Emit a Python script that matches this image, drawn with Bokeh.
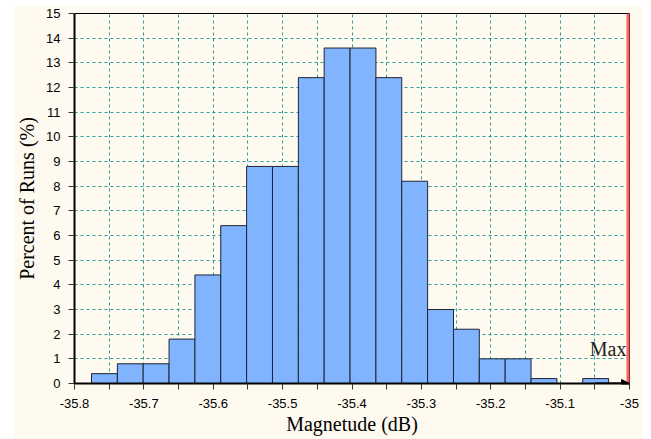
from bokeh.plotting import figure
from bokeh.models import (FixedTicker, CustomJSTickFormatter, Span, Label,
                          ColumnDataSource, Arrow, NormalHead)
from bokeh.embed import file_html
from bokeh.resources import INLINE

# ---- data ----
bin_edges = [-35.7755, -35.7382, -35.7010, -35.6637, -35.6264, -35.5892, -35.5519,
             -35.5146, -35.4773, -35.4401, -35.4028, -35.3655, -35.3283, -35.2910,
             -35.2537, -35.2165, -35.1792, -35.1419, -35.1046, -35.0674, -35.0301]
percent_of_runs = [0.4, 0.8, 0.8, 1.8, 4.4, 6.4, 8.8, 8.8, 12.4, 13.6,
                   13.6, 12.4, 8.2, 3.0, 2.2, 1.0, 1.0, 0.2, 0.0, 0.2]
x_ticks = [-35.8, -35.75, -35.7, -35.65, -35.6, -35.55, -35.5, -35.45, -35.4,
           -35.35, -35.3, -35.25, -35.2, -35.15, -35.1, -35.05, -35.0]
y_ticks = [0, 1, 2, 3, 4, 5, 6, 7, 8, 9, 10, 11, 12, 13, 14, 15]
max_value = -35.0
max_label = "Max"
x_title = "Magnetude (dB)"
y_title = "Percent of Runs (%)"

cream = "#FEFAEF"

src = ColumnDataSource(dict(left=bin_edges[:-1], right=bin_edges[1:],
                            top=percent_of_runs, bottom=[0] * len(percent_of_runs)))

p = figure(width=630, height=434, x_range=(x_ticks[0], x_ticks[-1]),
           y_range=(y_ticks[0], y_ticks[-1]), output_backend="svg",
           toolbar_location=None, min_border_left=60, min_border_right=14,
           min_border_top=8, min_border_bottom=56)
p.margin = (5, 8, 0, 13)
p.background_fill_color = cream
p.border_fill_color = cream
p.outline_line_color = "black"
p.outline_line_width = 1

p.quad(left="left", right="right", top="top", bottom="bottom", source=src,
       fill_color="#80B4FF", line_color="#1E2433", line_width=1)

# grids
p.xgrid.ticker = FixedTicker(ticks=x_ticks[1:-1])
p.ygrid.ticker = FixedTicker(ticks=y_ticks[1:-1])
for g in (p.xgrid, p.ygrid):
    g.grid_line_color = "#169494"
    g.grid_line_dash = "3 3"
    g.grid_line_width = 1
    g.grid_line_alpha = 0.9

# axes
xa = p.xaxis[0]
ya = p.yaxis[0]
xa.ticker = FixedTicker(ticks=x_ticks)
ya.ticker = FixedTicker(ticks=y_ticks)
xa.formatter = CustomJSTickFormatter(code="""
const k = Math.round(tick * 20);
if (k % 2 != 0) { return ""; }
return String(Math.round(tick * 10) / 10);
""")
for ax in (xa, ya):
    ax.axis_line_color = "black"
    ax.axis_line_width = 2
    ax.major_tick_line_color = "#333333"
    ax.major_tick_in = 0
    ax.major_tick_out = 6
    ax.minor_tick_line_color = None
    ax.major_label_text_font = "Liberation Sans"
    ax.major_label_text_font_size = "13px"
    ax.major_label_text_color = "black"
    ax.axis_label_text_font = "Liberation Serif"
    ax.axis_label_text_font_size = "20px"
    ax.axis_label_text_font_style = "normal"
    ax.axis_label_text_color = "black"
xa.axis_label = x_title
ya.axis_label = y_title
xa.major_label_standoff = 9
xa.axis_label_standoff = 2
ya.major_label_standoff = 8
ya.axis_label_standoff = 5

# max line and label
p.add_layout(Span(location=max_value, dimension="height", line_color="#FF6060",
                  line_width=6))
p.add_layout(Label(x=max_value, y=0.95, text=max_label, text_align="right",
                   text_baseline="bottom", x_offset=-3,
                   text_font="Liberation Serif", text_font_size="20px",
                   text_color="#222222"))

# arrow head at the end of the x axis
p.add_layout(Arrow(end=NormalHead(size=8, fill_color="black", line_color="black"),
                   x_start=x_ticks[-2], y_start=y_ticks[0],
                   x_end=max_value, y_end=y_ticks[0],
                   line_color="black", line_width=2))

open("out.html", "w").write(file_html(p, INLINE))
